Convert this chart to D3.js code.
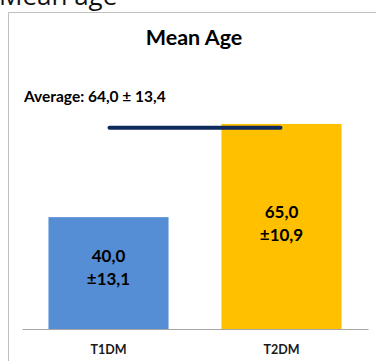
<!DOCTYPE html>
<html>
<head>
<meta charset="utf-8">
<script src="https://cdn.jsdelivr.net/npm/d3@7"></script>
<style>
  html, body { margin: 0; padding: 0; background: #fff; }
  svg { display: block; }
</style>
</head>
<body>
<svg id="chart" width="376" height="361"></svg>
<script>
const categories = ["T1DM", "T2DM"];
const means = [40.0, 65.0];
const sds = ["±13,1", "±10,9"];
const meanLabels = ["40,0", "65,0"];
const colors = ["#558ED5", "#FFC000"];
const average = 64.0;
const averageLabel = "Average: 64,0 ± 13,4";
const chartTitle = "Mean Age";
const slideTitle = "Mean age";

const svg = d3.select("#chart");
const font = "Lato, 'Open Sans', sans-serif";

// slide title (cropped at top, as in the reference)
svg.append("text").attr("x", -1).attr("y", 5)
  .attr("font-family", "'Open Sans', sans-serif").attr("font-size", 26)
  .attr("fill", "#111").text(slideTitle);

// chart frame
svg.append("path").attr("d", "M8.5,361 V12.5 H380")
  .attr("fill", "none").attr("stroke", "#bfbfbf").attr("stroke-width", 1);

const x = d3.scaleBand().domain(categories).range([22, 368])
  .paddingInner(0.306).paddingOuter(0.153);
const y = d3.scaleLinear().domain([10, 80]).range([329, 68]);

svg.append("text").attr("x", 194).attr("y", 45).attr("text-anchor", "middle")
  .attr("font-family", font).attr("font-weight", 700).attr("font-size", 21.5)
  .attr("fill", "#000").text(chartTitle);

svg.append("text").attr("x", 24).attr("y", 102)
  .attr("font-family", font).attr("font-weight", 700).attr("font-size", 15.5)
  .attr("fill", "#000").text(averageLabel);

// bars
svg.selectAll("rect.bar").data(categories).join("rect")
  .attr("class", "bar")
  .attr("x", d => x(d))
  .attr("width", x.bandwidth())
  .attr("y", (d, i) => y(means[i]))
  .attr("height", (d, i) => y(10) - y(means[i]))
  .attr("fill", (d, i) => colors[i]);

// axis
const axisG = svg.append("g").attr("transform", `translate(0,${y(10)})`)
  .call(d3.axisBottom(x).tickSize(0).tickPadding(16));
axisG.select(".domain").attr("stroke", "#a6a6a6").attr("stroke-width", 1.2);
axisG.selectAll("text").attr("font-family", font).attr("font-weight", 700)
  .attr("font-size", 12.5).attr("fill", "#1a1a1a");

// average line
svg.append("line")
  .attr("x1", x(categories[0]) + x.bandwidth() / 2 + 1)
  .attr("x2", x(categories[1]) + x.bandwidth() / 2 - 1)
  .attr("y1", y(average)).attr("y2", y(average))
  .attr("stroke", "#0f2a5c").attr("stroke-width", 4).attr("stroke-linecap", "round");

// value labels
categories.forEach((c, i) => {
  const cx = x(c) + x.bandwidth() / 2;
  const top = y(means[i]);
  const off = i === 0 ? 45 : 94;
  svg.append("text").attr("x", cx).attr("y", top + off).attr("text-anchor", "middle")
    .attr("font-family", font).attr("font-weight", 700).attr("font-size", 17)
    .attr("fill", "#000").text(meanLabels[i]);
  svg.append("text").attr("x", cx).attr("y", top + off + 23).attr("text-anchor", "middle")
    .attr("font-family", font).attr("font-weight", 700).attr("font-size", 17)
    .attr("fill", "#000").text(sds[i]);
});
</script>
</body>
</html>
